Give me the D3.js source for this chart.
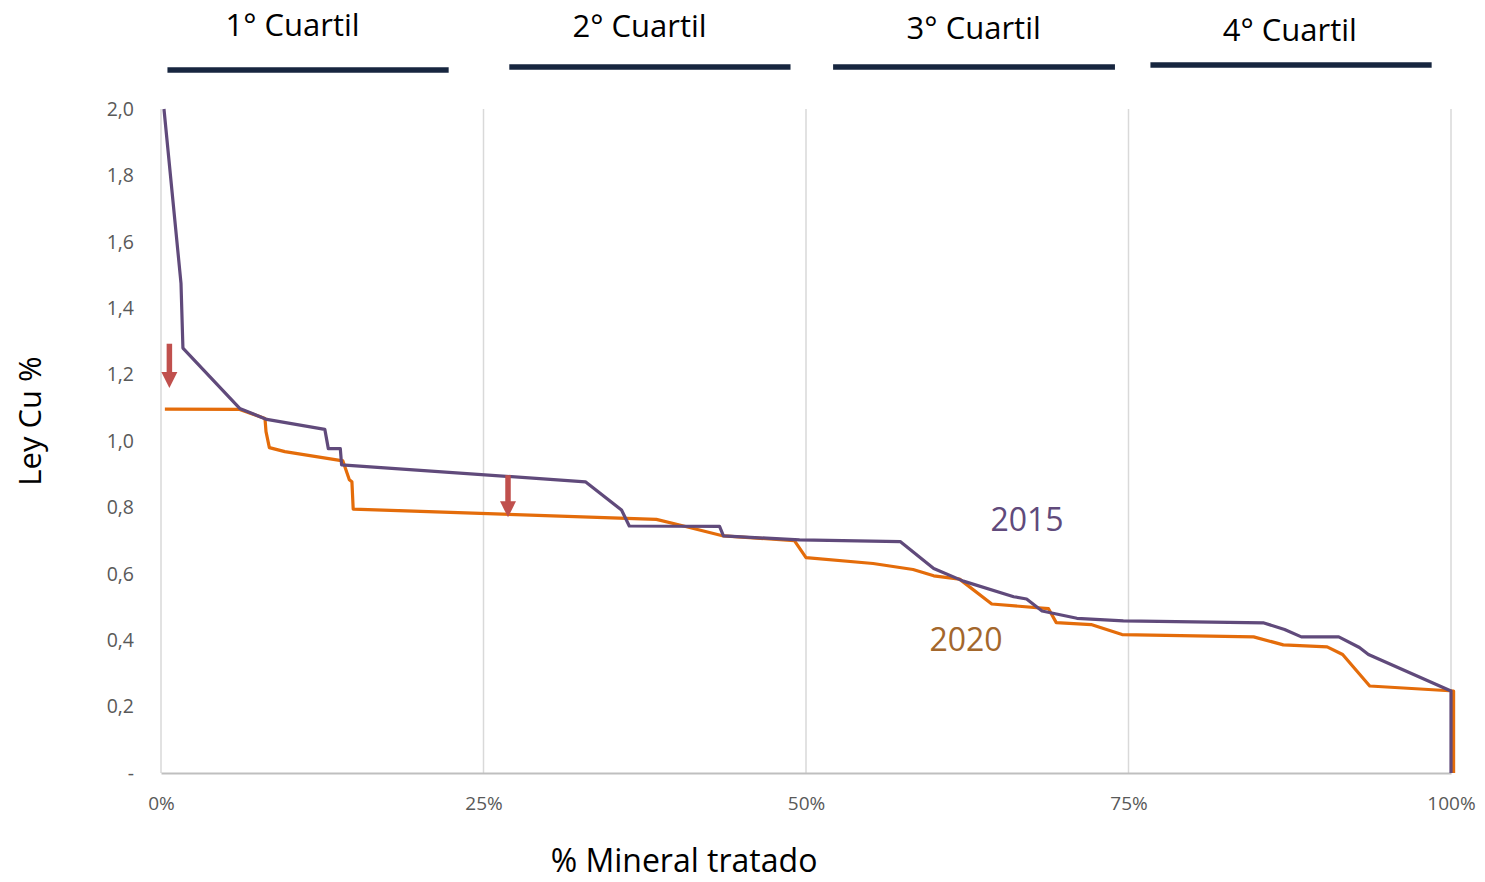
<!DOCTYPE html>
<meta charset="utf-8">
<script src="https://d3js.org/d3.v7.min.js"></script>
<style>
  body { margin: 0; background: #fff; }
  text { font-family: "Open Sans", "Noto Sans", sans-serif; }
</style>
<div id="chart"></div>
<script>

// % mineral tratado vs ley Cu % (2015 curve)
var x2015 = [0.23, 1.55, 1.7, 6.1, 8.2, 12.7, 12.97, 13.9, 14.0, 32.9, 35.7, 36.3, 43.3, 43.6, 49.5, 57.3, 59.9, 62.2, 66.1, 67.1, 68.3, 71.0, 74.6, 85.5, 87.1, 88.4, 91.3, 92.9, 93.6, 100, 100];
var y2015 = [2.0, 1.475, 1.28, 1.098, 1.065, 1.035, 0.977, 0.977, 0.928, 0.877, 0.792, 0.744, 0.743, 0.714, 0.702, 0.697, 0.616, 0.578, 0.531, 0.524, 0.488, 0.466, 0.458, 0.452, 0.432, 0.41, 0.41, 0.378, 0.357, 0.247, 0];

// 2020 curve
var x2020 = [0.3, 6.1, 8.06, 8.14, 8.4, 9.6, 14.1, 14.6, 14.8, 14.9, 38.4, 40.2, 43.6, 49.1, 50.0, 55.2, 58.3, 59.9, 61.9, 64.4, 68.8, 69.4, 72.1, 74.5, 84.7, 87.0, 90.4, 91.6, 93.7, 100.2, 100.2];
var y2020 = [1.096, 1.095, 1.068, 1.028, 0.98, 0.968, 0.94, 0.883, 0.877, 0.795, 0.764, 0.747, 0.714, 0.70, 0.649, 0.631, 0.613, 0.594, 0.584, 0.509, 0.495, 0.453, 0.447, 0.417, 0.41, 0.386, 0.38, 0.357, 0.262, 0.247, 0];

var yTicks = [0, 0.2, 0.4, 0.6, 0.8, 1.0, 1.2, 1.4, 1.6, 1.8, 2.0];
var xTicks = [0, 25, 50, 75, 100];

var quartiles = ["1° Cuartil", "2° Cuartil", "3° Cuartil", "4° Cuartil"];
var quartStart = [0.5, 27.0, 52.1, 76.7];
var quartEnd = [22.3, 48.8, 73.95, 98.5];
var quartLabelX = [10.2, 37.1, 63.0, 87.5];

// arrows: x, from, to
var arrowX = [0.65, 26.9];
var arrowFrom = [1.293, 0.897];
var arrowTo = [1.16, 0.77];

var W = 1485, H = 882;
var svg = d3.select("#chart").append("svg")
  .attr("width", W).attr("height", H);

var x = d3.scaleLinear().domain([0, 100]).range([161, 1451]);
var y = d3.scaleLinear().domain([0, 2]).range([773, 109]);

// vertical gridlines
svg.append("g")
  .selectAll("line")
  .data(xTicks.slice(1))
  .enter().append("line")
    .attr("x1", d => x(d)).attr("x2", d => x(d))
    .attr("y1", y(2)).attr("y2", y(0))
    .attr("stroke", "#d9d9d9").attr("stroke-width", 1.5);

// y axis line
svg.append("line")
  .attr("x1", x(0)).attr("x2", x(0))
  .attr("y1", y(2)).attr("y2", y(0))
  .attr("stroke", "#d9d9d9").attr("stroke-width", 1.5);

// x axis
var xAxis = svg.append("g")
  .attr("transform", "translate(0," + y(0) + ")")
  .call(d3.axisBottom(x).tickValues(xTicks).tickSize(0).tickPadding(24)
        .tickFormat(d => d + "%"));
xAxis.select(".domain").attr("stroke", "#bfbfbf").attr("stroke-width", 2);
xAxis.selectAll("text").attr("fill", "#595959").style("font-size", "19px");

// y axis labels
var yAxis = svg.append("g")
  .attr("transform", "translate(" + x(0) + ",0)")
  .call(d3.axisLeft(y).tickValues(yTicks).tickSize(0).tickPadding(27)
        .tickFormat(d => d === 0 ? "-" : d3.format(".1f")(d).replace(".", ",")));
yAxis.select(".domain").remove();
yAxis.selectAll("text").attr("fill", "#595959").style("font-size", "19.5px");

// lines
var line = d3.line().x(d => x(d[0])).y(d => y(d[1]));

svg.append("path")
  .datum(d3.zip(x2020, y2020))
  .attr("d", line)
  .attr("fill", "none")
  .attr("stroke", "#e46c0a")
  .attr("stroke-width", 3.2)
  .attr("stroke-linejoin", "round");

svg.append("path")
  .datum(d3.zip(x2015, y2015))
  .attr("d", line)
  .attr("fill", "none")
  .attr("stroke", "#604a7b")
  .attr("stroke-width", 3.2)
  .attr("stroke-linejoin", "round");

// arrows
arrowX.forEach(function(ax, i) {
  var cx = x(ax), y0 = y(arrowFrom[i]), y1 = y(arrowTo[i]);
  svg.append("line")
    .attr("x1", cx).attr("x2", cx)
    .attr("y1", y0).attr("y2", y1 - 14)
    .attr("stroke", "#c0504d").attr("stroke-width", 5.5);
  svg.append("path")
    .attr("d", "M" + (cx - 8) + "," + (y1 - 16) + "L" + (cx + 8) + "," + (y1 - 16) + "L" + cx + "," + y1 + "Z")
    .attr("fill", "#c0504d");
});

// series labels
svg.append("text")
  .attr("x", 1027).attr("y", 531)
  .attr("text-anchor", "middle")
  .attr("fill", "#604a7b")
  .style("font-size", "32px")
  .text("2015");
svg.append("text")
  .attr("x", 966).attr("y", 651)
  .attr("text-anchor", "middle")
  .attr("fill", "#a3672c")
  .style("font-size", "32px")
  .text("2020");

// quartile headers
var qY = [70, 67, 67, 65];
var qTextY = [36, 37, 39, 41];
quartiles.forEach(function(q, i) {
  svg.append("line")
    .attr("x1", x(quartStart[i])).attr("x2", x(quartEnd[i]))
    .attr("y1", qY[i]).attr("y2", qY[i])
    .attr("stroke", "#17263f").attr("stroke-width", 5.5);
  svg.append("text")
    .attr("x", x(quartLabelX[i]))
    .attr("y", qTextY[i])
    .attr("text-anchor", "middle")
    .attr("fill", "#000")
    .style("font-size", "31px")
    .text(q);
});

// axis titles
svg.append("text")
  .attr("x", 684).attr("y", 872)
  .attr("text-anchor", "middle")
  .style("font-size", "32px")
  .text("% Mineral tratado");

svg.append("text")
  .attr("transform", "translate(41,421) rotate(-90)")
  .attr("text-anchor", "middle")
  .style("font-size", "31px")
  .text("Ley Cu %");

</script>
